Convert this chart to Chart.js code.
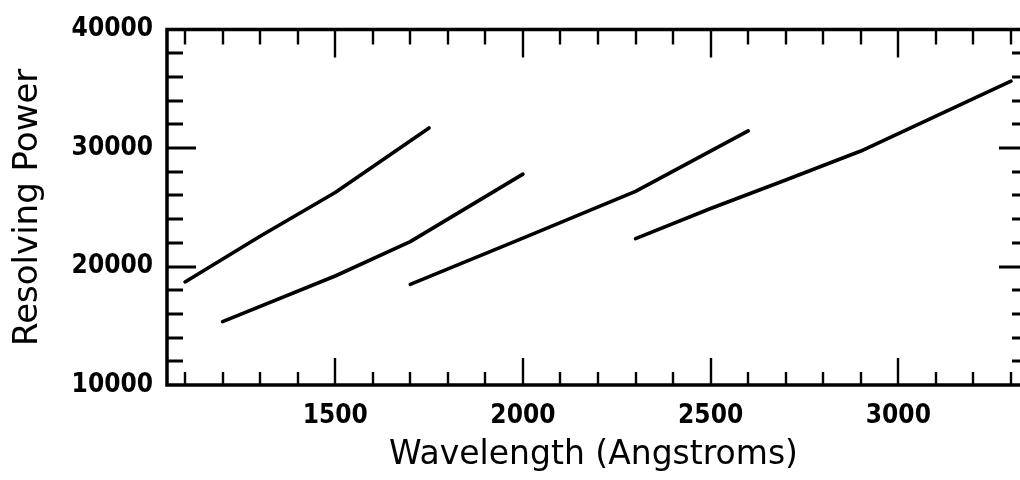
<!DOCTYPE html>
<html>
<head>
<meta charset="utf-8">
<script src="https://cdn.jsdelivr.net/npm/chart.js@4.4.3/dist/chart.umd.min.js"></script>
<style>
  html, body { margin: 0; padding: 0; background: #fff; overflow: hidden; }
  #chart { display: block; }
</style>
</head>
<body>
<canvas id="chart" width="1020" height="480"></canvas>
<script>
// wavelength (Angstroms) / resolving power for each segment
const seg1Wave  = [1100, 1300, 1500, 1750];
const seg1Power = [18700, 22550, 26250, 31700];

const seg2Wave  = [1200, 1500, 1700, 2000];
const seg2Power = [15350, 19200, 22100, 27800];

const seg3Wave  = [1700, 2000, 2300, 2600];
const seg3Power = [18500, 22400, 26350, 31450];

const seg4Wave  = [2300, 2500, 2700, 2900, 3300];
const seg4Power = [22350, 24900, 27300, 29750, 35650];

const xTickValues = [1500, 2000, 2500, 3000];
const yTickValues = [10000, 20000, 30000, 40000];

const xMin = 1052, xMax = 3324;
const yMin = 10000, yMax = 40000;

const tickFont = { family: "'DejaVu Sans Condensed', 'DejaVu Sans'", size: 26, weight: 'bold' };

function toPoints(xs, ys) {
    return xs.map((x, i) => ({ x: x, y: ys[i] }));
}

function segment(xs, ys) {
    return {
        data: toPoints(xs, ys),
        borderColor: '#000',
        borderWidth: 3.6,
        borderCapStyle: 'round',
        borderJoinStyle: 'round',
        pointRadius: 0,
        fill: false,
        tension: 0
    };
}

// frame + inward ticks, old plotting package style
const frameTicks = {
    id: 'frameTicks',
    afterDraw(chart) {
        const { ctx, chartArea: a, scales: { x, y } } = chart;
        ctx.save();
        ctx.strokeStyle = '#000';
        ctx.lineCap = 'butt';

        // x ticks every 100, major every 500
        for (let v = 1100; v <= 3300; v += 100) {
            const px = Math.round(x.getPixelForValue(v));
            const major = v % 500 === 0;
            ctx.lineWidth = 2.4;
            ctx.beginPath();
            ctx.moveTo(px, a.bottom);
            ctx.lineTo(px, a.bottom - (major ? 27 : 13));
            ctx.moveTo(px, a.top);
            ctx.lineTo(px, a.top + (major ? 28 : 15));
            ctx.stroke();
        }

        // y ticks every 2000, major every 10000
        for (let v = 12000; v < 40000; v += 2000) {
            const py = Math.round(y.getPixelForValue(v));
            const major = v % 10000 === 0;
            ctx.lineWidth = 3;
            ctx.beginPath();
            ctx.moveTo(a.left, py);
            ctx.lineTo(a.left + (major ? 29 : 16), py);
            ctx.moveTo(a.right, py);
            ctx.lineTo(a.right - (major ? 21 : 8), py);
            ctx.stroke();
        }

        // axis lines (right edge falls off the picture)
        ctx.lineWidth = 3.5;
        ctx.lineCap = 'square';
        ctx.beginPath();
        ctx.moveTo(a.right + 2, a.top);
        ctx.lineTo(a.left, a.top);
        ctx.lineTo(a.left, a.bottom);
        ctx.lineTo(a.right + 2, a.bottom);
        ctx.stroke();
        ctx.restore();
    }
};

const ctx = document.getElementById('chart');

new Chart(ctx, {
    type: 'line',
    data: {
        datasets: [
            segment(seg1Wave, seg1Power),
            segment(seg2Wave, seg2Power),
            segment(seg3Wave, seg3Power),
            segment(seg4Wave, seg4Power)
        ]
    },
    options: {
        responsive: false,
        animation: false,
        devicePixelRatio: 1,
        layout: { padding: { top: 26, right: 0, left: 0, bottom: 0 } },
        plugins: {
            legend: { display: false },
            tooltip: { enabled: false }
        },
        scales: {
            x: {
                type: 'linear',
                min: xMin,
                max: xMax,
                grid: { display: false, drawTicks: false },
                border: { display: false },
                afterBuildTicks: (scale) => {
                    scale.ticks = xTickValues.map(v => ({ value: v }));
                },
                afterFit: (scale) => { scale.height = 95; },
                ticks: {
                    color: '#000',
                    padding: 16,
                    maxRotation: 0,
                    font: tickFont,
                    callback: (v) => String(v)
                },
                title: {
                    display: true,
                    text: 'Wavelength (Angstroms)',
                    color: '#000',
                    font: { family: 'DejaVu Sans', size: 33, lineHeight: 1.2 },
                    padding: { top: 0, bottom: 5 }
                }
            },
            y: {
                type: 'linear',
                min: yMin,
                max: yMax,
                grid: { display: false, drawTicks: false },
                border: { display: false },
                afterBuildTicks: (scale) => {
                    scale.ticks = yTickValues.map(v => ({ value: v }));
                },
                afterFit: (scale) => { scale.width = 167; },
                ticks: {
                    color: '#000',
                    padding: 14,
                    font: tickFont,
                    callback: (v) => String(v)
                },
                title: {
                    display: true,
                    text: 'Resolving Power',
                    color: '#000',
                    font: { family: 'DejaVu Sans', size: 34, lineHeight: 1.2 },
                    padding: { top: 8, bottom: 0 }
                }
            }
        }
    },
    plugins: [frameTicks]
});
</script>
</body>
</html>
